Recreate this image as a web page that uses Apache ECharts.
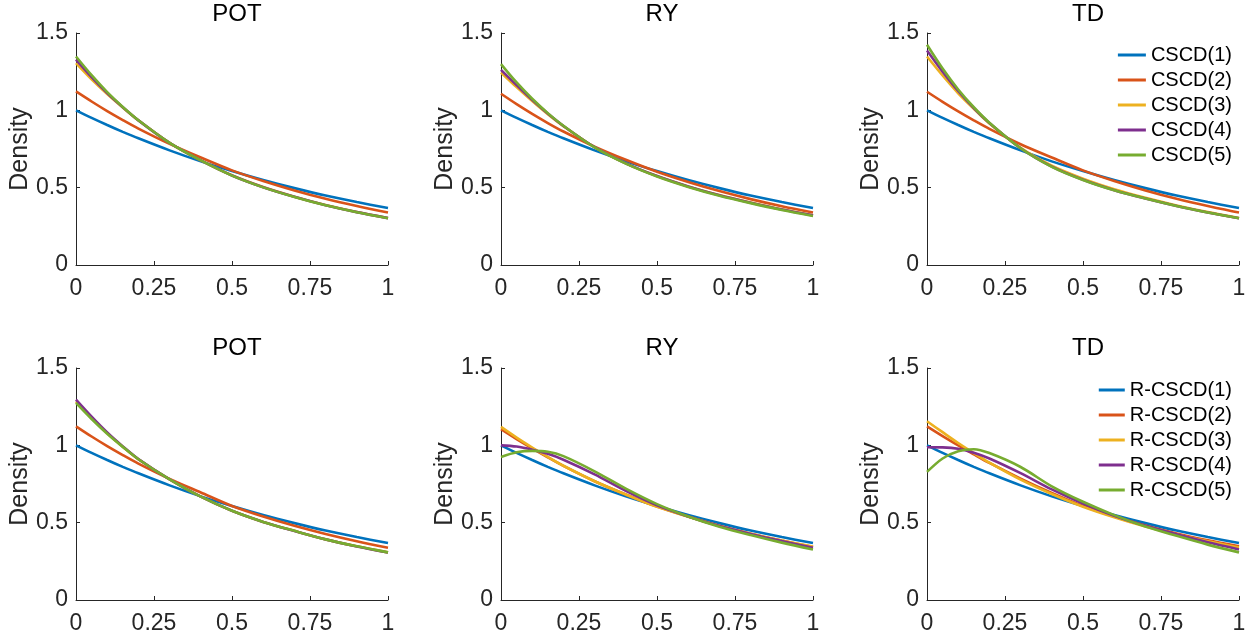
<!DOCTYPE html>
<html>
<head>
<meta charset="utf-8">
<script src="https://cdn.jsdelivr.net/npm/echarts@6/dist/echarts.min.js"></script>
<style>
html,body{margin:0;padding:0;background:#fff;}
#c{width:1253px;height:638px;}
</style>
</head>
<body>
<div id="c"></div>
<script>
// ---- data ----
const xs = [0, 0.05, 0.1, 0.15, 0.2, 0.3, 0.4, 0.5, 0.6, 0.7, 0.8, 0.9, 1];
const panelTitles = ['POT', 'RY', 'TD'];
const topNames = ['CSCD(1)', 'CSCD(2)', 'CSCD(3)', 'CSCD(4)', 'CSCD(5)'];
const bottomNames = ['R-CSCD(1)', 'R-CSCD(2)', 'R-CSCD(3)', 'R-CSCD(4)', 'R-CSCD(5)'];
const xTicks = [0, 0.25, 0.5, 0.75, 1];
const yTicks = [0, 0.5, 1, 1.5];

const topPOT = [
  [1.0, 0.951, 0.905, 0.861, 0.819, 0.741, 0.670, 0.607, 0.549, 0.497, 0.449, 0.407, 0.368],
  [1.122, 1.057, 0.995, 0.937, 0.882, 0.783, 0.695, 0.612, 0.543, 0.482, 0.428, 0.381, 0.339],
  [1.305, 1.20, 1.105, 1.018, 0.935, 0.790, 0.677, 0.580, 0.504, 0.442, 0.388, 0.343, 0.304],
  [1.328, 1.215, 1.112, 1.020, 0.935, 0.789, 0.676, 0.579, 0.503, 0.441, 0.387, 0.342, 0.303],
  [1.348, 1.227, 1.118, 1.022, 0.936, 0.790, 0.676, 0.578, 0.502, 0.440, 0.386, 0.341, 0.302]
];
const topRY = [
  [1.0, 0.951, 0.905, 0.861, 0.819, 0.741, 0.670, 0.607, 0.549, 0.497, 0.449, 0.407, 0.368],
  [1.107, 1.040, 0.977, 0.918, 0.863, 0.765, 0.680, 0.603, 0.537, 0.478, 0.426, 0.380, 0.339],
  [1.245, 1.150, 1.060, 0.975, 0.898, 0.762, 0.657, 0.575, 0.508, 0.452, 0.404, 0.360, 0.322],
  [1.262, 1.163, 1.068, 0.979, 0.899, 0.762, 0.657, 0.575, 0.508, 0.451, 0.403, 0.359, 0.321],
  [1.299, 1.180, 1.075, 0.982, 0.900, 0.760, 0.655, 0.572, 0.505, 0.448, 0.400, 0.356, 0.317]
];
const topTD = [
  [1.0, 0.951, 0.905, 0.861, 0.819, 0.741, 0.670, 0.607, 0.549, 0.497, 0.449, 0.407, 0.368],
  [1.120, 1.055, 0.993, 0.935, 0.880, 0.781, 0.695, 0.612, 0.543, 0.482, 0.428, 0.381, 0.339],
  [1.348, 1.225, 1.110, 1.010, 0.915, 0.757, 0.642, 0.558, 0.490, 0.434, 0.385, 0.342, 0.304],
  [1.387, 1.250, 1.125, 1.015, 0.918, 0.755, 0.636, 0.551, 0.484, 0.430, 0.382, 0.340, 0.302],
  [1.424, 1.270, 1.135, 1.020, 0.920, 0.755, 0.635, 0.550, 0.483, 0.430, 0.382, 0.340, 0.302]
];
const botPOT = [
  [1.0, 0.951, 0.905, 0.861, 0.819, 0.741, 0.670, 0.607, 0.549, 0.497, 0.449, 0.407, 0.368],
  [1.123, 1.057, 0.995, 0.937, 0.882, 0.783, 0.695, 0.608, 0.540, 0.480, 0.427, 0.380, 0.338],
  [1.285, 1.177, 1.078, 0.991, 0.910, 0.780, 0.668, 0.577, 0.505, 0.447, 0.392, 0.347, 0.308],
  [1.295, 1.185, 1.083, 0.993, 0.911, 0.780, 0.668, 0.577, 0.505, 0.446, 0.392, 0.346, 0.307],
  [1.274, 1.170, 1.075, 0.990, 0.910, 0.780, 0.668, 0.577, 0.505, 0.447, 0.392, 0.347, 0.308]
];
const botRY = [
  [1.0, 0.951, 0.905, 0.861, 0.819, 0.741, 0.670, 0.607, 0.549, 0.497, 0.449, 0.407, 0.368],
  [1.104, 1.040, 0.980, 0.922, 0.867, 0.768, 0.682, 0.604, 0.540, 0.480, 0.429, 0.384, 0.342],
  [1.119, 1.050, 0.986, 0.925, 0.868, 0.768, 0.682, 0.602, 0.538, 0.479, 0.428, 0.384, 0.345],
  [1.0, 0.992, 0.972, 0.945, 0.907, 0.812, 0.705, 0.612, 0.540, 0.478, 0.427, 0.381, 0.338],
  [0.925, 0.955, 0.964, 0.958, 0.930, 0.832, 0.720, 0.620, 0.540, 0.474, 0.420, 0.371, 0.327]
];
const botTD = [
  [1.0, 0.951, 0.905, 0.861, 0.819, 0.741, 0.670, 0.607, 0.549, 0.497, 0.449, 0.407, 0.368],
  [1.123, 1.060, 1.000, 0.942, 0.886, 0.785, 0.692, 0.608, 0.540, 0.482, 0.430, 0.386, 0.347],
  [1.156, 1.085, 1.015, 0.950, 0.888, 0.778, 0.685, 0.603, 0.535, 0.475, 0.424, 0.379, 0.339],
  [0.988, 0.987, 0.978, 0.952, 0.915, 0.820, 0.715, 0.624, 0.545, 0.480, 0.425, 0.373, 0.327],
  [0.828, 0.915, 0.962, 0.975, 0.950, 0.860, 0.735, 0.635, 0.549, 0.475, 0.415, 0.358, 0.308]
];

// ---- styling / layout ----
const colors = ['#0072BD', '#D95319', '#EDB120', '#7E2F8E', '#77AC30'];
const gridLefts = [76, 501, 927];
const gridTops = [33, 368];
const gridW = 312, gridH = 232;
const FONT = '"Liberation Sans", Arial, sans-serif';
const axisColor = '#262626';

const panels = [
  { data: topPOT, names: topNames, row: 0, col: 0 },
  { data: topRY, names: topNames, row: 0, col: 1 },
  { data: topTD, names: topNames, row: 0, col: 2 },
  { data: botPOT, names: bottomNames, row: 1, col: 0 },
  { data: botRY, names: bottomNames, row: 1, col: 1 },
  { data: botTD, names: bottomNames, row: 1, col: 2 }
];

const grid = [], xAxis = [], yAxis = [], series = [], title = [];
panels.forEach((p, i) => {
  const left = gridLefts[p.col], top = gridTops[p.row];
  grid.push({ left: left, top: top, width: gridW, height: gridH, containLabel: false });
  title.push({
    text: panelTitles[p.col],
    left: left + gridW / 2,
    textAlign: 'center',
    top: p.row === 0 ? -3 : 331,
    textStyle: { fontFamily: FONT, fontSize: 24, fontWeight: 'normal', color: '#000' }
  });
  xAxis.push({
    type: 'value', gridIndex: i, min: xTicks[0], max: xTicks[xTicks.length - 1],
    interval: xTicks[1] - xTicks[0],
    axisLine: { show: true, onZero: false, lineStyle: { color: axisColor, width: 1 } },
    axisTick: { show: true, inside: true, length: 4, lineStyle: { color: axisColor } },
    axisLabel: { fontFamily: FONT, fontSize: 23, color: axisColor, margin: 12 },
    splitLine: { show: false }
  });
  yAxis.push({
    type: 'value', gridIndex: i, min: yTicks[0], max: yTicks[yTicks.length - 1],
    interval: yTicks[1] - yTicks[0],
    name: 'Density', nameLocation: 'middle', nameGap: 43,
    nameTextStyle: { fontFamily: FONT, fontSize: 25, color: axisColor },
    axisLine: { show: true, lineStyle: { color: axisColor, width: 1 } },
    axisTick: { show: true, inside: true, length: 4, lineStyle: { color: axisColor } },
    axisLabel: { fontFamily: FONT, fontSize: 23, color: axisColor, margin: 8 },
    splitLine: { show: false }
  });
  p.data.forEach((vals, k) => {
    series.push({
      type: 'line', name: p.names[k], xAxisIndex: i, yAxisIndex: i,
      data: xs.map((x, j) => [x, vals[j]]),
      showSymbol: false, symbol: 'none', smooth: 0.3,
      lineStyle: { color: colors[k], width: 2.6 },
      itemStyle: { color: colors[k] },
      animation: false, silent: true, z: 2 + k
    });
  });
});

const legend = [
  {
    data: topNames, orient: 'vertical', right: 21, top: 45, padding: 0,
    itemWidth: 28, itemHeight: 3, itemGap: 5, icon: 'rect',
    textStyle: { fontFamily: FONT, fontSize: 20, color: '#000', lineHeight: 20 },
    selectedMode: false
  },
  {
    data: bottomNames, orient: 'vertical', right: 21, top: 380, padding: 0,
    itemWidth: 26, itemHeight: 3, itemGap: 5, icon: 'rect',
    textStyle: { fontFamily: FONT, fontSize: 20, color: '#000', lineHeight: 20 },
    selectedMode: false
  }
];

const chart = echarts.init(document.getElementById('c'), null, { renderer: 'canvas' });
chart.setOption({
  backgroundColor: '#fff',
  animation: false,
  title: title,
  grid: grid,
  xAxis: xAxis,
  yAxis: yAxis,
  legend: legend,
  series: series
});
</script>
</body>
</html>
